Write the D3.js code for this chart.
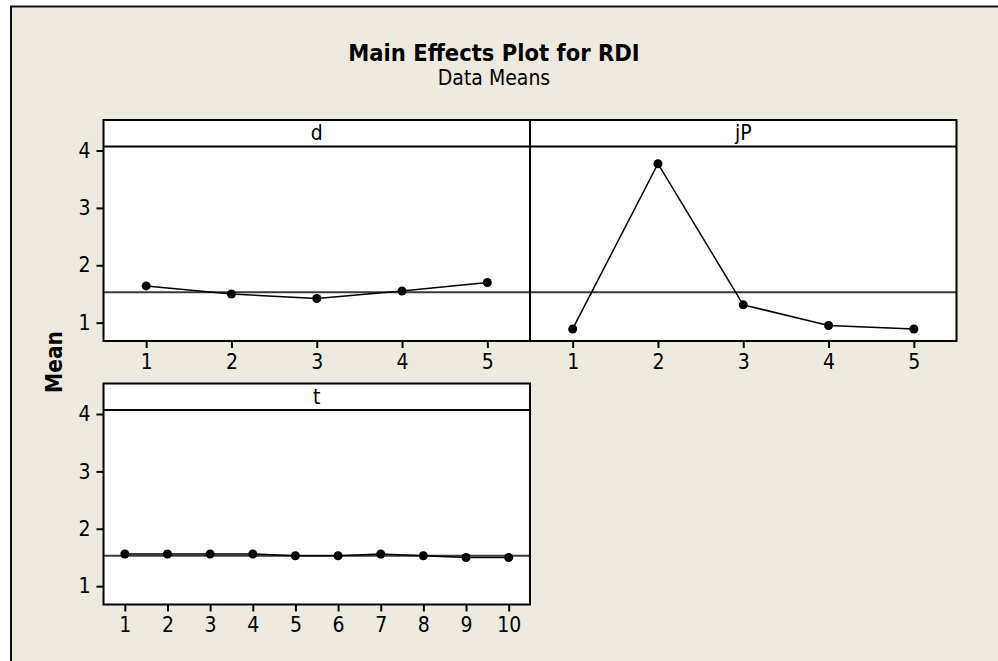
<!DOCTYPE html>
<html>
<head>
<meta charset="utf-8">
<script src="https://cdn.jsdelivr.net/npm/d3@7/dist/d3.min.js"></script>
<style>
  body { margin: 0; background: #fff; }
  svg { display: block; }
  text { font-family: "DejaVu Sans Condensed", "DejaVu Sans", sans-serif; fill: #000; }
</style>
</head>
<body>
<div class="box"></div>
<script>
////////////////// donnees //////////////////////
const dLevels = [1, 2, 3, 4, 5];
const dMeans = [1.64, 1.50, 1.42, 1.55, 1.70];

const jPLevels = [1, 2, 3, 4, 5];
const jPMeans = [0.89, 3.77, 1.31, 0.95, 0.89];

const tLevels = [1, 2, 3, 4, 5, 6, 7, 8, 9, 10];
const tMeans = [1.56, 1.56, 1.56, 1.56, 1.53, 1.53, 1.56, 1.53, 1.50, 1.50];

const grandMean = 1.53;
const yTicks = [1, 2, 3, 4];
const yDomain = [0.68, 4.07];

////////////////// mise en place //////////////////////
const dims = {width: 998, height: 661, panelW: 426.5, panelH: 221, strip: 26.5};
const tickFont = '21px';

const svg = d3.select('.box')
              .append('svg')
              .attr('width', dims.width)
              .attr('height', dims.height);

// fond beige + cadre (coupe a droite et en bas)
svg.append('rect')
   .attr('x', 11)
   .attr('y', 6.5)
   .attr('width', 1100)
   .attr('height', 800)
   .attr('fill', '#eeeadf')
   .attr('stroke', '#111')
   .attr('stroke-width', 2);

svg.append('text')
   .attr('x', 494)
   .attr('y', 61)
   .attr('text-anchor', 'middle')
   .style('font-size', '23.5px')
   .style('font-weight', 'bold')
   .text('Main Effects Plot for RDI');

svg.append('text')
   .attr('x', 494)
   .attr('y', 85)
   .attr('text-anchor', 'middle')
   .style('font-size', '21px')
   .text('Data Means');

svg.append('text')
   .attr('transform', 'translate(62, 362) rotate(-90)')
   .attr('text-anchor', 'middle')
   .style('font-size', '22.5px')
   .style('font-weight', 'bold')
   .text('Mean');

const panels = [
  {name: 'd', levels: dLevels, means: dMeans, x: 103.5, y: 120, yAxis: true},
  {name: 'jP', levels: jPLevels, means: jPMeans, x: 530, y: 120, yAxis: false},
  {name: 't', levels: tLevels, means: tMeans, x: 103.5, y: 383.5, yAxis: true}
];

////////////////// panneaux //////////////////////
panels.forEach(p => {

    const g = svg.append('g')
                 .attr('transform', `translate(${p.x}, ${p.y})`);

    const x = d3.scaleLinear()
                .domain([0.5, p.levels.length + 0.5])
                .range([0, dims.panelW]);

    const y = d3.scaleLinear()
                .domain(yDomain)
                .range([dims.panelH, dims.strip]);

    g.append('rect')
     .attr('width', dims.panelW)
     .attr('height', dims.panelH)
     .attr('fill', '#fff');

    // moyenne generale
    g.append('line')
     .attr('x1', 0)
     .attr('x2', dims.panelW)
     .attr('y1', y(grandMean))
     .attr('y2', y(grandMean))
     .attr('stroke', '#3a3a3a')
     .attr('stroke-width', 2);

    const line = d3.line()
                   .x((d, i) => x(p.levels[i]))
                   .y(d => y(d));

    g.append('path')
     .attr('d', line(p.means))
     .attr('fill', 'none')
     .attr('stroke', '#000')
     .attr('stroke-width', 1.5);

    g.selectAll('circle')
     .data(p.means)
     .enter()
     .append('circle')
     .attr('cx', (d, i) => x(p.levels[i]))
     .attr('cy', d => y(d))
     .attr('r', 4.5)
     .attr('fill', '#000');

    // bandeau du titre
    g.append('line')
     .attr('x1', 0)
     .attr('x2', dims.panelW)
     .attr('y1', dims.strip)
     .attr('y2', dims.strip)
     .attr('stroke', '#000')
     .attr('stroke-width', 2);

    g.append('text')
     .attr('x', dims.panelW / 2)
     .attr('y', 20)
     .attr('text-anchor', 'middle')
     .style('font-size', tickFont)
     .text(p.name);

    g.append('rect')
     .attr('width', dims.panelW)
     .attr('height', dims.panelH)
     .attr('fill', 'none')
     .attr('stroke', '#000')
     .attr('stroke-width', 2);

    // axes
    const xAxis = d3.axisBottom(x)
                    .tickValues(p.levels)
                    .tickSize(7)
                    .tickPadding(6)
                    .tickFormat(d3.format('d'));

    g.append('g')
     .attr('transform', `translate(0, ${dims.panelH})`)
     .call(xAxis);

    if (p.yAxis) {
        const yAxis = d3.axisLeft(y)
                        .tickValues(yTicks)
                        .tickSize(7)
                        .tickPadding(6)
                        .tickFormat(d3.format('d'));

        g.append('g').call(yAxis);
    }

    g.selectAll('.domain').remove();
    g.selectAll('.tick line')
     .attr('stroke', '#000')
     .attr('stroke-width', 2);
    g.selectAll('.tick text')
     .style('font-size', tickFont)
     .attr('fill', '#000');
});
</script>
</body>
</html>
